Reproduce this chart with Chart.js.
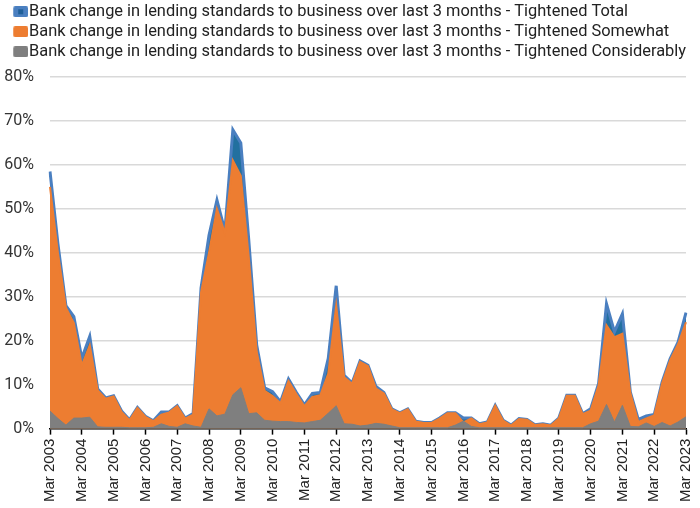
<!DOCTYPE html>
<html>
<head>
<meta charset="utf-8">
<script src="https://cdn.jsdelivr.net/npm/chart.js@4"></script>
<style>
  body { margin: 0; background: #fff; }
  #wrap { width: 700px; height: 508px; }
</style>
</head>
<body>
<div id="wrap"><canvas id="myChart"></canvas></div>
<script>
// quarterly, Mar 2003 .. Mar 2023
let labels_data = [];
for (let y = 2003; y <= 2023; y++) {
  for (let q = 0; q < 4; q++) {
    if (y === 2023 && q > 0) break;
    labels_data.push(['Mar', 'Jun', 'Sep', 'Dec'][q] + ' ' + y);
  }
}

const tightened_total = [
  58.5, 42, 28, 25.5, 16, 21, 9, 7, 7.5, 4,
  2, 4.8, 2.8, 1.8, 3.8, 3.8, 5.2, 2.4, 3.4, 32,
  44, 52, 45, 68, 65, 43, 19, 9.3, 8.4, 6.1,
  11.3, 8.2, 5.4, 8, 8.2, 16, 32.5, 12.1, 10.4, 15.4,
  14.4, 9.6, 8.2, 4.5, 3.6, 4.5, 1.7, 1.4, 1.4, 2.4,
  3.6, 3.6, 2.4, 2.4, 1.1, 1.5, 5.3, 1.9, 0.8, 2.3,
  2.1, 0.9, 1.1, 0.8, 2.4, 7.6, 7.6, 3.4, 4.5, 10.2,
  28.4, 22, 26.1, 8.3, 2.1, 2.9, 3.2, 10.6, 15.9, 19.7,
  26.4
];

const tightened_somewhat = [
  55, 40, 27.5, 24, 14.4, 19, 8.7, 6.8, 7.3, 3.8,
  1.9, 4.7, 2.7, 1.7, 3.2, 3.7, 5.1, 2.3, 3.2, 31,
  40, 50, 44.5, 61, 57.5, 39, 17.5, 8.6, 7.4, 5.8,
  10.8, 7.8, 5.1, 7.2, 7.6, 12.5, 28, 11.7, 10.2, 15.2,
  14.2, 9.1, 8, 4.4, 3.5, 4.4, 1.6, 1.3, 1.3, 2.3,
  3.5, 3.5, 1.4, 2.3, 1, 1.4, 5.2, 1.8, 0.7, 2.2,
  2, 0.8, 1, 0.7, 2.3, 7.5, 7.5, 3.3, 4.1, 9.8,
  23.5, 20.8, 21.6, 8.1, 1.5, 2.3, 3, 10.3, 15.5, 19.2,
  24.2
];

const tightened_considerably = [
  4, 2.3, 0.8, 2.4, 2.4, 2.6, 0.4, 0.3, 0.3, 0.3,
  0.2, 0.2, 0.2, 0.3, 1.1, 0.5, 0.3, 1.1, 0.6, 0.3,
  4.5, 2.9, 3.3, 7.7, 9.3, 3.4, 3.6, 1.9, 1.7, 1.6,
  1.6, 1.4, 1.3, 1.6, 1.9, 3.5, 5.2, 1.1, 1, 0.6,
  0.8, 1.2, 1, 0.6, 0.2, 0.2, 0.2, 0.2, 0.2, 0.2,
  0.2, 0.8, 1.7, 0.5, 0.2, 0.2, 0.2, 0.2, 0.2, 0.2,
  0.2, 0.2, 0.2, 0.2, 0.2, 0.2, 0.2, 0.2, 1.1, 1.7,
  5.5, 1.5, 5.3, 0.5, 0.4, 1.3, 0.5, 1.4, 0.6, 1.5,
  2.7
];

const y_ticks = [0, 10, 20, 30, 40, 50, 60, 70, 80];

const prefix = 'Bank change in lending standards to business over last 3 months - ';

// legend swatches: 15x11 box sitting at the right end of a 28px wide image
function swatch(fill, inner) {
  const c = document.createElement('canvas');
  c.width = 28; c.height = 11;
  const g = c.getContext('2d');
  g.fillStyle = fill;
  g.beginPath();
  g.roundRect(13, 0, 15, 11, 2);
  g.fill();
  if (inner) {
    g.fillStyle = inner;
    g.fillRect(18, 3, 5, 5);
  }
  return c;
}
const swatches = [swatch('#4a7fc0', '#1f5f99'), swatch('#ED7D31'), swatch('#7F7F7F')];

// push the plot down a bit below the legend
const legendGap = {
  id: 'legendGap',
  beforeInit(chart) {
    const fit = chart.legend.fit;
    chart.legend.fit = function () {
      fit.bind(chart.legend)();
      this.height += 7;
    };
  }
};

const ctx = document.getElementById('myChart').getContext('2d');
const myChart = new Chart(ctx, {
  type: 'line',
  plugins: [legendGap],
  data: {
    labels: labels_data,
    datasets: [{
      label: prefix + 'Tightened Total',
      data: tightened_total,
      backgroundColor: '#22709f',
      borderColor: '#4a7fc0',
      borderWidth: 3,
      fill: 'origin',
      order: 3
    }, {
      label: prefix + 'Tightened Somewhat',
      data: tightened_somewhat,
      backgroundColor: '#ED7D31',
      borderColor: '#ED7D31',
      borderWidth: 2,
      fill: 'origin',
      order: 2
    }, {
      label: prefix + 'Tightened Considerably',
      data: tightened_considerably,
      backgroundColor: '#7F7F7F',
      borderColor: '#7F7F7F',
      borderWidth: 1,
      fill: 'origin',
      order: 1
    }]
  },
  options: {
    responsive: true,
    maintainAspectRatio: false,
    animation: false,
    elements: {
      point: { radius: 0 },
      line: { tension: 0 }
    },
    layout: { padding: { left: 4, right: 14, top: 0, bottom: 2 } },
    plugins: {
      tooltip: { enabled: false },
      legend: {
        position: 'top',
        align: 'start',
        labels: {
          usePointStyle: true,
          pointStyleWidth: 13.2,
          padding: 3.6,
          color: '#222',
          font: { family: 'Roboto', size: 16.4 },
          sort: (a, b) => a.datasetIndex - b.datasetIndex,
          generateLabels: (chart) => {
            const items = Chart.defaults.plugins.legend.labels.generateLabels(chart);
            items.forEach(it => { it.pointStyle = swatches[it.datasetIndex]; });
            return items;
          }
        }
      }
    },
    scales: {
      y: {
        min: 0,
        max: 80,
        afterBuildTicks: (axis) => { axis.ticks = y_ticks.map(v => ({ value: v })); },
        afterFit: (axis) => { axis.width = 46; },
        border: { display: false },
        grid: { color: '#d9d9d9', lineWidth: 1.5, drawTicks: false },
        ticks: {
          padding: 16,
          color: '#333',
          font: { family: 'Roboto', size: 16 },
          callback: (v) => v + '%'
        }
      },
      x: {
        afterFit: (axis) => { axis.paddingRight = 0; },
        border: { display: true, color: '#000', width: 1.5 },
        grid: {
          drawOnChartArea: false,
          drawTicks: true,
          tickLength: 6,
          tickWidth: 1.5,
          tickColor: (c) => (c.index % 4 === 0 ? '#000' : 'rgba(0,0,0,0)')
        },
        ticks: {
          autoSkip: false,
          maxRotation: 90,
          minRotation: 90,
          padding: 4,
          color: '#222',
          font: { family: 'Liberation Sans', size: 15 },
          callback: function (val, i) { return i % 4 === 0 ? this.getLabelForValue(val) : ''; }
        }
      }
    }
  }
});
</script>
</body>
</html>
